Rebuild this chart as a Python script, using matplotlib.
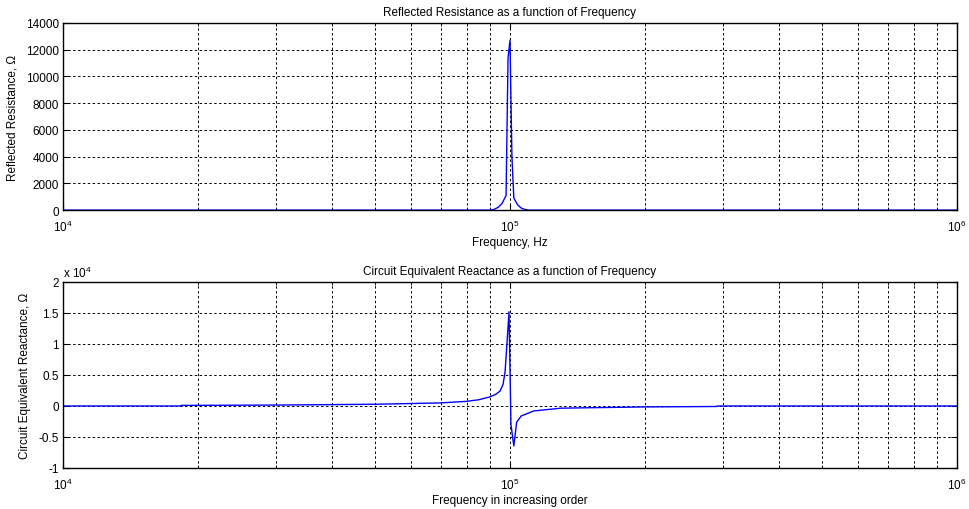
import matplotlib.pyplot as plt
from matplotlib.ticker import FixedLocator, LogLocator, FuncFormatter, NullFormatter

plt.rcParams['font.family'] = ['Liberation Sans', 'DejaVu Sans']
plt.rcParams['mathtext.fontset'] = 'custom'
plt.rcParams['mathtext.rm'] = 'Liberation Sans'

# reflected resistance vs frequency (Hz, ohm)
res_freq = [1e4, 9.0e4, 9.2e4, 9.4e4, 9.6e4, 9.8e4, 9.9e4, 1.0e5,
            1.01e5, 1.02e5, 1.04e5, 1.06e5, 1.08e5, 1.1e5, 1e6]
res_ohm = [0, 0, 50, 200, 500, 1100, 11400, 12700,
           4000, 900, 400, 150, 50, 0, 0]

# circuit equivalent reactance vs frequency (Hz, ohm)
react_freq = [1e4, 1.83e4, 1.84e4, 3e4, 5e4, 7e4, 8e4, 8.5e4, 9e4, 9.3e4,
              9.5e4, 9.65e4, 9.75e4, 9.85e4, 9.95e4, 1.005e5, 1.02e5,
              1.035e5, 1.06e5, 1.13e5, 1.3e5, 2e5, 2.9e5, 2.91e5, 1e6]
react_ohm = [0, 0, 100, 150, 280, 500, 750, 1000, 1450, 1900,
             2400, 3500, 5500, 10300, 15200, -3000, -6450,
             -2600, -1600, -800, -350, -150, -80, 0, 0]

fig = plt.figure(figsize=(9.69, 5.10), dpi=100)
ax1 = fig.add_axes([0.065, 0.586, 0.9226, 0.367])
ax2 = fig.add_axes([0.065, 0.0804, 0.9226, 0.3647])

def style(ax):
    ax.set_xscale('log')
    ax.set_xlim(1e4, 1e6)
    ax.xaxis.set_major_locator(LogLocator(base=10, numticks=10))
    ax.xaxis.set_minor_locator(LogLocator(base=10, subs=range(2, 10), numticks=20))
    ax.xaxis.set_minor_formatter(NullFormatter())
    ax.grid(True, which='both', axis='x', color='k', linestyle=(0, (2.5, 2.5)), linewidth=0.7)
    ax.grid(True, which='major', axis='y', color='k', linestyle=(0, (2.5, 2.5)), linewidth=0.7)
    ax.set_axisbelow(True)
    ax.tick_params(which='both', direction='in', top=True, right=True, labelsize=8.5)
    ax.tick_params(axis='y', pad=3)
    ax.tick_params(axis='x', pad=6)
    ax.tick_params(which='major', length=4)
    ax.tick_params(which='minor', length=2)
    for s in ax.spines.values():
        s.set_linewidth(1.0)

ax1.plot(res_freq, res_ohm, color='blue', linewidth=1)
style(ax1)
ax1.set_ylim(0, 14000)
ax1.yaxis.set_major_locator(FixedLocator(range(0, 14001, 2000)))
ax1.set_title('Reflected Resistance as a function of Frequency', fontsize=8.5, pad=6)
ax1.set_xlabel('Frequency, Hz', fontsize=8.5, labelpad=2)
ax1.set_ylabel('Reflected Resistance, Ω', fontsize=8.5, labelpad=5)

ax2.plot(react_freq, react_ohm, color='blue', linewidth=1)
style(ax2)
ax2.set_ylim(-10000, 20000)
ax2.yaxis.set_major_locator(FixedLocator(range(-10000, 20001, 5000)))
ax2.yaxis.set_major_formatter(FuncFormatter(lambda v, p: '%g' % (v / 1e4)))
ax2.text(0.0, 1.01, r'x 10$^{4}$', transform=ax2.transAxes, fontsize=8.5, va='bottom', ha='left')
ax2.set_title('Circuit Equivalent Reactance as a function of Frequency', fontsize=8.5, pad=6)
ax2.set_xlabel('Frequency in increasing order', fontsize=8.5, labelpad=2)
ax2.set_ylabel('Circuit Equivalent Reactance, Ω', fontsize=8.5, labelpad=5)

fig.savefig('out.png', dpi=100)
